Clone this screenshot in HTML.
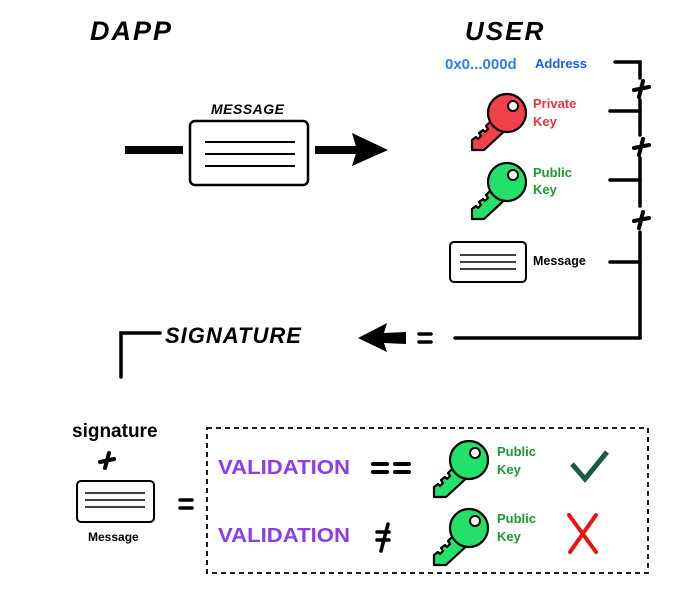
<!DOCTYPE html>
<html><head><meta charset="utf-8"><style>
html,body{margin:0;padding:0;background:#fff;}
svg{display:block;}
.h{font-family:"Liberation Sans",sans-serif;font-weight:bold;font-style:italic;}
.s{font-family:"Liberation Sans",sans-serif;font-weight:bold;}
</style></head><body>
<svg width="700" height="602" viewBox="0 0 700 602" xmlns="http://www.w3.org/2000/svg">
<defs>
<g id="keyshape">
<path d="M25,20 L40,33 L14,57 L2,57 L2,47 L6,44 L8,46 L11,43 L9,40 L13,37 L15,39 L18,36 L16,33 L20,29 Z" stroke="#000" stroke-width="2.2" stroke-linejoin="round"/>
<circle cx="37" cy="20" r="19" stroke="#000" stroke-width="2.2"/>
<circle cx="43" cy="13" r="5" fill="#fff" stroke="#000" stroke-width="2"/>
</g>
</defs>

<text x="90" y="40" class="h" font-size="27" letter-spacing="2">DAPP</text>
<text x="465" y="40" class="h" font-size="26" letter-spacing="2">USER</text>

<text x="211" y="114" class="h" font-size="14" letter-spacing="0.5">MESSAGE</text>
<rect x="125" y="146" width="58" height="8" fill="#000"/>
<rect x="190" y="121" width="118" height="64" rx="5" fill="#fff" stroke="#000" stroke-width="2.5"/>
<line x1="205" y1="142" x2="295" y2="142" stroke="#000" stroke-width="2"/>
<line x1="205" y1="154" x2="295" y2="154" stroke="#000" stroke-width="2"/>
<line x1="205" y1="166" x2="295" y2="166" stroke="#000" stroke-width="2"/>
<rect x="315" y="146" width="42" height="8" fill="#000"/>
<polygon points="352,133 388,150 352,166 357,150" fill="#000"/>

<text x="445" y="69" class="s" font-size="15" fill="#2f7bf0">0x0...000d</text>
<text x="535" y="68" class="s" font-size="13" fill="#1a5ee8">Address</text>
<use href="#keyshape" x="470" y="93" fill="#f0404a"/>
<text x="533" y="108" class="s" font-size="13" fill="#f0303a">Private</text>
<text x="533" y="126" class="s" font-size="13" fill="#f0303a">Key</text>
<use href="#keyshape" x="470" y="162" fill="#22e06a"/>
<text x="533" y="177" class="s" font-size="13" fill="#1a9a30">Public</text>
<text x="533" y="194" class="s" font-size="13" fill="#1a9a30">Key</text>
<rect x="450" y="242" width="76" height="40" rx="4" fill="#fff" stroke="#000" stroke-width="2"/>
<line x1="460" y1="255" x2="516" y2="255" stroke="#000" stroke-width="1.5"/>
<line x1="460" y1="262" x2="516" y2="262" stroke="#000" stroke-width="1.5"/>
<line x1="460" y1="269" x2="516" y2="269" stroke="#000" stroke-width="1.5"/>
<text x="533" y="265" class="s" font-size="12.5" fill="#000">Message</text>

<g stroke="#000" stroke-width="3.5" fill="none" stroke-linecap="round">
<polyline points="615,62 640,62 640,78"/>
<line x1="640" y1="100" x2="640" y2="135"/>
<line x1="610" y1="111" x2="640" y2="111"/>
<line x1="640" y1="158" x2="640" y2="206"/>
<line x1="610" y1="180" x2="640" y2="180"/>
<line x1="640" y1="232" x2="640" y2="338"/>
<line x1="610" y1="262" x2="640" y2="262"/>
<line x1="455" y1="338" x2="640" y2="338"/>
</g>
<g stroke="#000" stroke-width="4" stroke-linecap="round">
<line x1="634" y1="90" x2="649" y2="87"/><line x1="643" y1="81" x2="639" y2="97"/>
<line x1="634" y1="148" x2="649" y2="145"/><line x1="643" y1="139" x2="639" y2="155"/>
<line x1="634" y1="221" x2="649" y2="218"/><line x1="643" y1="212" x2="639" y2="228"/>
</g>

<g stroke="#000" stroke-width="3.5" stroke-linecap="round">
<line x1="419" y1="334" x2="431" y2="334"/><line x1="419" y1="342" x2="431" y2="342"/>
</g>
<polygon points="358,338 387,323 384,333 406,332 406,344 384,343 387,352" fill="#000"/>
<polyline points="121,377 121,333 160,333" stroke="#000" stroke-width="3.5" fill="none" stroke-linecap="round"/>
<text x="165" y="343" class="h" font-size="22" letter-spacing="1">SIGNATURE</text>

<text x="72" y="437" class="s" font-size="19">signature</text>
<g stroke="#000" stroke-width="4" stroke-linecap="round">
<line x1="100" y1="462" x2="114" y2="459"/><line x1="109" y1="453" x2="105" y2="468"/>
</g>
<rect x="77" y="481" width="77" height="41" rx="4" fill="#fff" stroke="#000" stroke-width="2"/>
<line x1="85" y1="493" x2="145" y2="493" stroke="#000" stroke-width="1.5"/>
<line x1="85" y1="500" x2="145" y2="500" stroke="#000" stroke-width="1.5"/>
<line x1="85" y1="507" x2="145" y2="507" stroke="#000" stroke-width="1.5"/>
<text x="88" y="541" class="s" font-size="12">Message</text>
<g stroke="#000" stroke-width="3.5" stroke-linecap="round">
<line x1="180" y1="500" x2="192" y2="500"/><line x1="180" y1="508" x2="192" y2="508"/>
</g>

<rect x="207" y="428" width="441" height="145" fill="none" stroke="#000" stroke-width="1.8" stroke-dasharray="5,4"/>
<text x="218" y="474" class="s" font-size="20" fill="#8a3df0" textLength="132" lengthAdjust="spacingAndGlyphs">VALIDATION</text>
<g stroke="#000" stroke-width="4" stroke-linecap="round">
<line x1="373" y1="464" x2="387" y2="464"/><line x1="373" y1="472" x2="387" y2="472"/>
<line x1="395" y1="464" x2="409" y2="464"/><line x1="395" y1="472" x2="409" y2="472"/>
</g>
<use href="#keyshape" x="432" y="440" fill="#22e06a"/>
<text x="497" y="456" class="s" font-size="13" fill="#1a9a30">Public</text>
<text x="497" y="474" class="s" font-size="13" fill="#1a9a30">Key</text>
<polyline points="572,464 585,479 607,452" stroke="#1a5a48" stroke-width="5" fill="none"/>

<text x="218" y="542" class="s" font-size="20" fill="#8a3df0" textLength="132" lengthAdjust="spacingAndGlyphs">VALIDATION</text>
<g stroke="#000" stroke-width="3.5" stroke-linecap="round">
<line x1="377" y1="532" x2="389" y2="532"/><line x1="377" y1="540" x2="389" y2="540"/>
<line x1="388" y1="524" x2="381" y2="551"/>
</g>
<use href="#keyshape" x="432" y="508" fill="#22e06a"/>
<text x="497" y="523" class="s" font-size="13" fill="#1a9a30">Public</text>
<text x="497" y="541" class="s" font-size="13" fill="#1a9a30">Key</text>
<g stroke="#f01010" stroke-width="4" stroke-linecap="round">
<line x1="569" y1="515" x2="596" y2="552"/><line x1="596" y1="515" x2="570" y2="552"/>
</g>
</svg>
</body></html>
